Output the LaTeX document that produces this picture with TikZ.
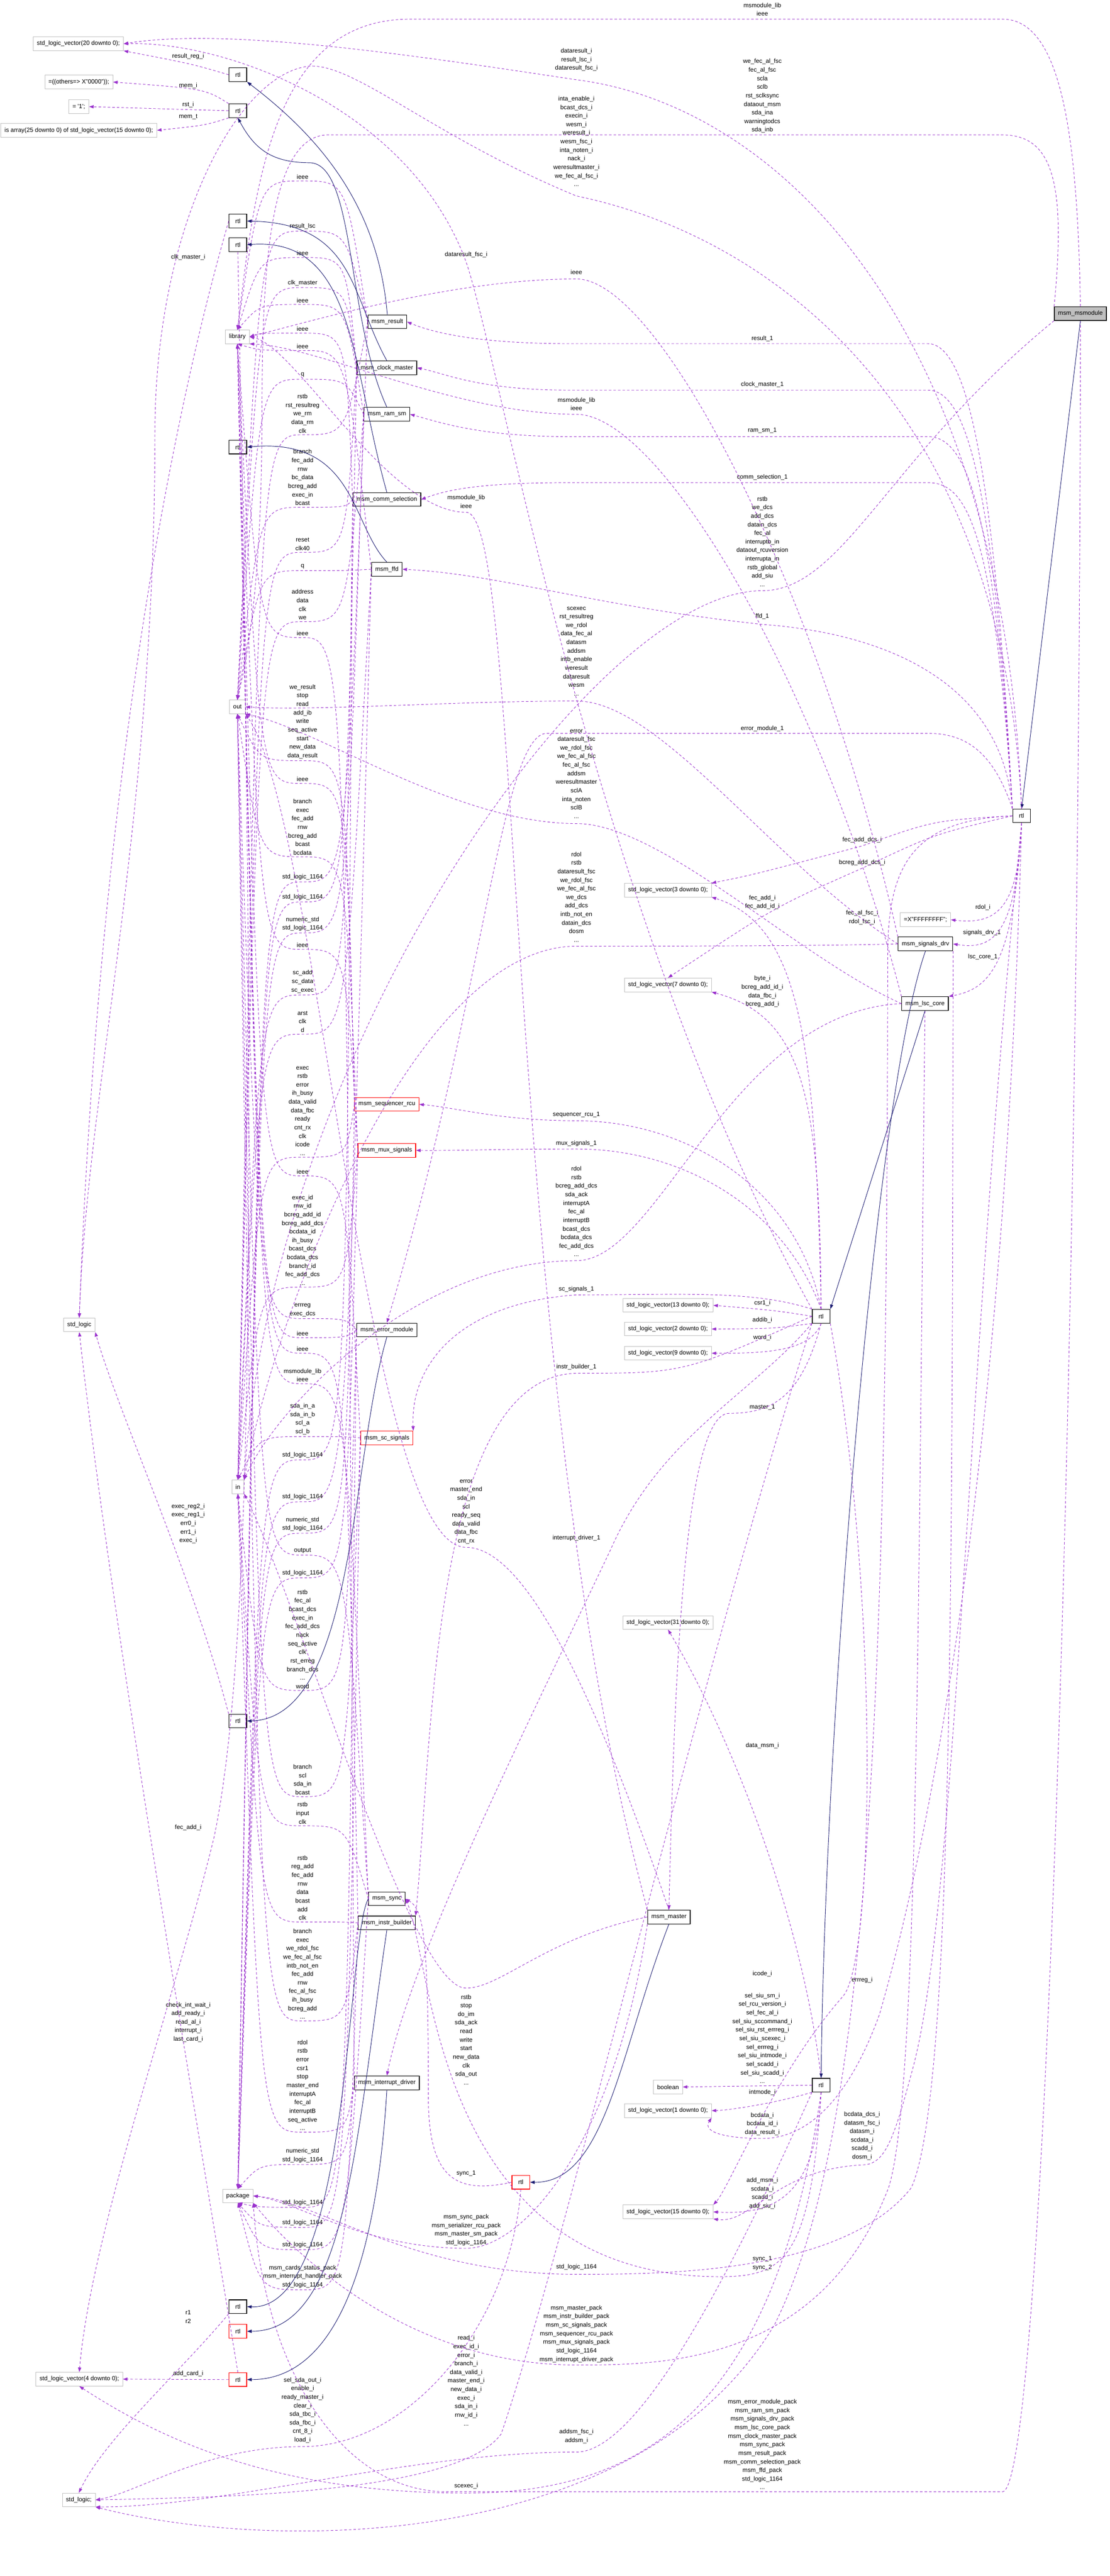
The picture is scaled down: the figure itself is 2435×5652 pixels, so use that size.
\documentclass[tikz,border=0pt]{standalone}
\usepackage{fontspec}
\setmainfont{Liberation Sans}
\usetikzlibrary{arrows.meta}
\definecolor{orchid}{HTML}{9A32CD}
\definecolor{navy}{HTML}{191970}
\newcommand\lbfont{\fontsize{7.6}{10.7}\selectfont}
\begin{document}
\begin{tikzpicture}[x=0.2mm,y=-0.2mm,
  box/.style={draw,line width=0.8pt,fill=white,minimum height=6mm,inner xsep=1.6mm,inner ysep=0pt,font=\lbfont},
  cut/.style={box,draw=red},
  typ/.style={box,draw=gray!50,line width=0.6pt},
  rtl/.style={box,minimum width=7.8mm,inner xsep=0pt},
  dep/.style={draw=orchid,line width=0.6pt,dash pattern=on 1.1mm off 0.9mm,-{Triangle[length=2mm,width=1.4mm]}},
  arch/.style={draw=navy,line width=0.6pt,-{Triangle[length=2mm,width=1.4mm]}},
  lbl/.style={font=\lbfont,align=center,inner sep=0.5pt}]
\useasboundingbox (0,0) rectangle (2435,5652);

\node[typ] (V20) at (172,96) {std\_logic\_vector(20 downto 0);};
\node[typ] (Oth) at (173,180) {=((others=> X"0000"));};
\node[typ] (One) at (173,234) {= \textquotesingle1\textquotesingle;};
\node[typ] (Arr) at (173,286) {is array(25 downto 0) of std\_logic\_vector(15 downto 0);};
\node[rtl] (A1) at (522,164) {rtl};
\node[rtl] (A2) at (522,243) {rtl};
\node[rtl] (A3) at (522,485) {rtl};
\node[rtl] (A4) at (522,537) {rtl};
\node[rtl] (A5) at (522,981) {rtl};
\node[typ] (Lib) at (521,739) {library};
\node[typ] (Out) at (521,1551) {out};
\node[typ] (In) at (522,3262) {in};
\node[typ] (Pkg) at (522,4818) {package};
\node[typ] (SL) at (174,2907) {std\_logic};
\node[rtl] (E0) at (522,3776) {rtl};
\node[rtl] (Y0) at (522,5061) {rtl};
\node[rtl,draw=red] (Ains) at (522,5115) {rtl};
\node[rtl,draw=red] (I0) at (522,5221) {rtl};
\node[typ] (V4) at (174,5220) {std\_logic\_vector(4 downto 0);};
\node[typ] (SLs) at (173,5485) {std\_logic;};
\node[box] (Res) at (850,706) {msm\_result};
\node[box] (Clk) at (849,807) {msm\_clock\_master};
\node[box] (Ram) at (849,909) {msm\_ram\_sm};
\node[box] (Com) at (849,1096) {msm\_comm\_selection};
\node[box] (Ffd) at (849,1249) {msm\_ffd};
\node[cut] (Seq) at (849,2423) {msm\_sequencer\_rcu};
\node[cut] (Mux) at (849,2524) {msm\_mux\_signals};
\node[box] (Err) at (849,2918) {msm\_error\_module};
\node[cut] (Sc) at (849,3155) {msm\_sc\_signals};
\node[box] (Syn) at (849,4166) {msm\_sync};
\node[box] (Ins) at (849,4219) {msm\_instr\_builder};
\node[box] (Int) at (849,4570) {msm\_interrupt\_driver};
\node[box] (Mas) at (1468,4206) {msm\_master};
\node[rtl,draw=red] (M0) at (1143,4788) {rtl};
\node[box,fill=gray!50] (Mod) at (2371,688) {msm\_msmodule};
\node[rtl] (T0) at (2242,1790) {rtl};
\node[typ] (V3) at (1466,1953) {std\_logic\_vector(3 downto 0);};
\node[typ] (V7) at (1466,2161) {std\_logic\_vector(7 downto 0);};
\node[typ] (FF) at (2031,2018) {=X"FFFFFFFF";};
\node[box] (Drv) at (2031,2071) {msm\_signals\_drv};
\node[box] (Lsc) at (2030,2202) {msm\_lsc\_core};
\node[typ] (V13) at (1466,2864) {std\_logic\_vector(13 downto 0);};
\node[rtl] (L0) at (1802,2888) {rtl};
\node[typ] (V2) at (1466,2916) {std\_logic\_vector(2 downto 0);};
\node[typ] (V9) at (1466,2969) {std\_logic\_vector(9 downto 0);};
\node[typ] (V31) at (1466,3560) {std\_logic\_vector(31 downto 0);};
\node[typ] (Boo) at (1466,4579) {boolean};
\node[rtl] (S0) at (1802,4575) {rtl};
\node[typ] (V1) at (1466,4631) {std\_logic\_vector(1 downto 0);};
\node[typ] (V15) at (1466,4853) {std\_logic\_vector(15 downto 0);};

\foreach \src/\tgt/\anc/\yy/\txt in {
  Res/Lib/north/397/{ieee},
  Res/Out/north/507/{result\_lsc},
  Clk/Lib/north/565/{ieee},
  Clk/Out/north/631/{clk\_master},
  Ram/Lib/north/668/{ieee},
  Com/Lib/east/731/{ieee},
  Ffd/Lib/south/769/{ieee},
  Ram/Out/north/832/{q},
  Res/In/north/954/{rstb\\rst\_resultreg\\we\_rm\\data\_rm\\clk},
  Com/Out/north/1113/{branch\\fec\_add\\rnw\\bc\_data\\bcreg\_add\\exec\_in\\bcast},
  Clk/In/north/1212/{reset\\clk40},
  Ffd/Out/north/1252/{q},
  Ram/In/north/1364/{address\\data\\clk\\we},
  Int/Lib/south/1399/{ieee},
  Seq/Out/south/1669/{we\_result\\stop\\read\\add\_ib\\write\\seq\_active\\start\\new\_data\\data\_result},
  Seq/Lib/south/1719/{ieee},
  Mux/Out/south/1880/{branch\\exec\\fec\_add\\rnw\\bcreg\_add\\bcast\\bcdata},
  Res/Pkg/north/1935/{std\_logic\_1164},
  Clk/Pkg/north/1979/{std\_logic\_1164},
  Ram/Pkg/north/2047/{numeric\_std\\std\_logic\_1164},
  Mux/Lib/south/2083/{ieee},
  Com/In/north/2183/{sc\_add\\sc\_data\\sc\_exec},
  Ffd/In/north/2269/{arst\\clk\\d},
  Seq/In/north/2539/{exec\\rstb\\error\\ih\_busy\\data\_valid\\data\_fbc\\ready\\cnt\_rx\\clk\\icode\\...},
  Sc/Lib/south/2580/{ieee},
  Mux/In/north/2824/{exec\_id\\rnw\_id\\bcreg\_add\_id\\bcreg\_add\_dcs\\bcdata\_id\\ih\_busy\\bcast\_dcs\\bcdata\_dcs\\branch\_id\\fec\_add\_dcs\\...},
  Err/Out/south/2893/{errreg\\exec\_dcs},
  Err/Lib/south/2935/{ieee},
  Ins/Lib/south/2969/{ieee},
  Syn/Lib/south/3036/{msmodule\_lib\\ieee},
  Sc/In/north/3152/{sda\_in\_a\\sda\_in\_b\\scl\_a\\scl\_b},
  Com/Pkg/north/3203/{std\_logic\_1164},
  Ffd/Pkg/north/3295/{std\_logic\_1164},
  Seq/Pkg/north/3364/{numeric\_std\\std\_logic\_1164},
  Syn/Out/south/3412/{output},
  Mux/Pkg/north/3462/{std\_logic\_1164},
  Err/In/south/3709/{rstb\\fec\_al\\bcast\_dcs\\exec\_in\\fec\_add\_dcs\\nack\\seq\_active\\clk\\rst\_erreg\\branch\_dcs\\...\\word},
  Sc/Out/south/3942/{branch\\scl\\sda\_in\\bcast},
  Syn/In/south/4006/{rstb\\input\\clk},
  Ins/In/south/4217/{rstb\\reg\_add\\fec\_add\\rnw\\data\\bcast\\add\\clk},
  Ins/Out/south/4434/{branch\\exec\\we\_rdol\_fsc\\we\_fec\_al\_fsc\\intb\_not\_en\\fec\_add\\rnw\\fec\_al\_fsc\\ih\_busy\\bcreg\_add\\...},
  Int/In/south/4678/{rdol\\rstb\\error\\csr1\\stop\\master\_end\\interruptA\\fec\_al\\interruptB\\seq\_active\\...},
  Int/Pkg/north/4749/{numeric\_std\\std\_logic\_1164},
  Err/Pkg/south/4843/{std\_logic\_1164},
  Sc/Pkg/south/4887/{std\_logic\_1164},
  Syn/Pkg/south/4936/{std\_logic\_1164},
  Ins/Pkg/south/5024/{msm\_cards\_status\_pack\\msm\_interrupt\_handler\_pack\\std\_logic\_1164}}{
  \draw[dep] (\src.west) .. controls (760,\yy) .. (664,\yy) .. controls (570,\yy) .. (\tgt.\anc);
  \node[lbl,anchor=south] at (664,\yy-3) {\txt};
}

\foreach \x/\y/\txt in {
  1673/5/{msmodule\_lib\\ieee},
  1673/128/{we\_fec\_al\_fsc\\fec\_al\_fsc\\scla\\sclb\\rst\_sclksync\\dataout\_msm\\sda\_ina\\warningtodcs\\sda\_inb},
  1265/105/{dataresult\_i\\result\_lsc\_i\\dataresult\_fsc\_i},
  1265/210/{inta\_enable\_i\\bcast\_dcs\_i\\execin\_i\\wesm\_i\\weresult\_i\\wesm\_fsc\_i\\inta\_noten\_i\\nack\_i\\weresultmaster\_i\\we\_fec\_al\_fsc\_i\\...},
  1265/591/{ieee},
  1023/551/{dataresult\_fsc\_i},
  1265/871/{msmodule\_lib\\ieee},
  1023/1085/{msmodule\_lib\\ieee},
  1673/736/{result\_1},
  1673/836/{clock\_master\_1},
  1673/937/{ram\_sm\_1},
  1673/1040/{comm\_selection\_1},
  1673/1088/{rstb\\we\_dcs\\add\_dcs\\datain\_dcs\\fec\_al\\interruptb\_in\\dataout\_rcuversion\\interrupta\_in\\rstb\_global\\add\_siu\\...},
  1673/1345/{ffd\_1},
  1265/1330/{scexec\\rst\_resultreg\\we\_rdol\\data\_fec\_al\\datasm\\addsm\\intb\_enable\\weresult\\dataresult\\wesm\\...},
  1673/1591/{error\_module\_1},
  1265/1599/{error\\dataresult\_fsc\\we\_rdol\_fsc\\we\_fec\_al\_fsc\\fec\_al\_fsc\\addsm\\weresultmaster\\sclA\\inta\_noten\\sclB\\...},
  1892/1836/{fec\_add\_dcs\_i},
  1265/1868/{rdol\\rstb\\dataresult\_fsc\\we\_rdol\_fsc\\we\_fec\_al\_fsc\\we\_dcs\\add\_dcs\\intb\_not\_en\\datain\_dcs\\dosm\\...},
  1892/1885/{bcreg\_add\_dcs\_i},
  1673/1963/{fec\_add\_i\\fec\_add\_id\_i},
  2157/1984/{rdol\_i},
  1892/1996/{fec\_al\_fsc\_i\\rdol\_fsc\_i},
  2155/2039/{signals\_drv\_1},
  2157/2092/{lsc\_core\_1},
  1673/2140/{byte\_i\\bcreg\_add\_id\_i\\data\_fbc\_i\\bcreg\_add\_i},
  1265/2439/{sequencer\_rcu\_1},
  1265/2501/{mux\_signals\_1},
  1265/2558/{rdol\\rstb\\bcreg\_add\_dcs\\sda\_ack\\interruptA\\fec\_al\\interruptB\\bcast\_dcs\\bcdata\_dcs\\fec\_add\_dcs\\...},
  1265/2821/{sc\_signals\_1},
  1673/2852/{csr1\_i},
  1673/2889/{addib\_i},
  1673/2927/{word\_i},
  1265/2992/{instr\_builder\_1},
  1673/3081/{master\_1},
  1023/3245/{error\\master\_end\\sda\_in\\scl\\ready\_seq\\data\_valid\\data\_fbc\\cnt\_rx},
  1265/3367/{interrupt\_driver\_1},
  1673/3823/{data\_msm\_i},
  1673/4323/{icode\_i},
  1892/4337/{errreg\_i},
  1673/4372/{sel\_siu\_sm\_i\\sel\_rcu\_version\_i\\sel\_fec\_al\_i\\sel\_siu\_sccommand\_i\\sel\_siu\_rst\_errreg\_i\\sel\_siu\_scexec\_i\\sel\_errreg\_i\\sel\_siu\_intmode\_i\\sel\_scadd\_i\\sel\_siu\_scadd\_i\\...},
  1023/4375/{rstb\\stop\\do\_im\\sda\_ack\\read\\write\\start\\new\_data\\clk\\sda\_out\\...},
  1673/4583/{intmode\_i},
  1673/4634/{bcdata\_i\\bcdata\_id\_i\\data\_result\_i},
  1892/4632/{bcdata\_dcs\_i\\datasm\_fsc\_i\\datasm\_i\\scdata\_i\\scadd\_i\\dosm\_i},
  1023/4761/{sync\_1},
  1673/4777/{add\_msm\_i\\scdata\_i\\scadd\_i\\add\_siu\_i},
  1023/4857/{msm\_sync\_pack\\msm\_serializer\_rcu\_pack\\msm\_master\_sm\_pack\\std\_logic\_1164},
  1673/4949/{sync\_1\\sync\_2},
  1265/4967/{std\_logic\_1164},
  1265/5057/{msm\_master\_pack\\msm\_instr\_builder\_pack\\msm\_sc\_signals\_pack\\msm\_sequencer\_rcu\_pack\\msm\_mux\_signals\_pack\\std\_logic\_1164\\msm\_interrupt\_driver\_pack},
  1023/5123/{read\_i\\exec\_id\_i\\error\_i\\branch\_i\\data\_valid\_i\\master\_end\_i\\new\_data\_i\\exec\_i\\sda\_in\_i\\rnw\_id\_i\\...},
  664/5215/{sel\_sda\_out\_i\\enable\_i\\ready\_master\_i\\clear\_i\\sda\_tbc\_i\\sda\_fbc\_i\\cnt\_8\_i\\load\_i},
  1673/5263/{msm\_error\_module\_pack\\msm\_ram\_sm\_pack\\msm\_signals\_drv\_pack\\msm\_lsc\_core\_pack\\msm\_clock\_master\_pack\\msm\_sync\_pack\\msm\_result\_pack\\msm\_comm\_selection\_pack\\msm\_ffd\_pack\\std\_logic\_1164\\...},
  1265/5329/{addsm\_fsc\_i\\addsm\_i},
  1023/5447/{scexec\_i},
  413/116/{result\_reg\_i},
  413/181/{mem\_i},
  413/222/{rst\_i},
  413/249/{mem\_t},
  413/557/{clk\_master\_i},
  413/3298/{exec\_reg2\_i\\exec\_reg1\_i\\err0\_i\\err1\_i\\exec\_i},
  413/4002/{fec\_add\_i},
  413/4392/{check\_int\_wait\_i\\add\_ready\_i\\read\_al\_i\\interrupt\_i\\last\_card\_i},
  413/5068/{r1\\r2},
  413/5201/{add\_card\_i}}{
  \node[lbl,anchor=north] at (\x,\y) {\txt};
}

\draw[dep] (Mod.north) .. controls (2365,300) and (2330,42) .. (2200,42) -- (900,42) .. controls (600,42) and (560,400) .. (Lib.north);
\draw[dep] (Mod.north west) .. controls (2340,400) and (2310,296) .. (2200,296) -- (720,296) .. controls (590,296) and (575,600) .. (575,900) .. controls (575,1300) and (540,1450) .. (Out.north);
\draw[dep] (Mod.south west) .. controls (1950,1000) and (1850,1296) .. (1673,1296) .. controls (1300,1296) and (600,2300) .. (In.north east);
\draw[dep] (Mod.south) .. controls (2370,3000) and (2290,5467) .. (2200,5467) -- (980,5467) .. controls (750,5467) and (580,5200) .. (Pkg.south east);
\draw[arch] (Mod.south) -- (T0.north);

\draw[dep] (T0.north) .. controls (2200,700) and (1700,230) .. (1265,175) .. controls (900,120) and (500,60) .. (V20.east);
\draw[dep] (T0.north) .. controls (2200,900) and (1700,520) .. (1265,430) .. controls (950,300) and (780,140) .. (680,145) .. controls (520,160) and (340,500) .. (340,950) .. controls (340,1800) and (190,2400) .. (SL.north);
\draw[dep] (T0.north west) .. controls (2180,1000) and (2120,754) .. (2036,754) -- (1250,754) .. controls (1050,754) and (950,730) .. (Res.east);
\draw[dep] (T0.north west) .. controls (2180,1050) and (2120,856) .. (2036,856) -- (1250,856) .. controls (1050,856) and (980,820) .. (Clk.east);
\draw[dep] (T0.north west) .. controls (2180,1100) and (2120,958) .. (2036,958) -- (1250,958) .. controls (1050,958) and (960,925) .. (Ram.east);
\draw[dep] (T0.north west) .. controls (2180,1150) and (2120,1059) .. (2036,1059) -- (1250,1059) .. controls (1050,1059) and (980,1075) .. (Com.east);
\draw[dep] (T0.north west) .. controls (2200,1500) and (1950,1390) .. (1673,1370) .. controls (1300,1330) and (1100,1260) .. (Ffd.east);
\draw[dep] (T0.north west) .. controls (2180,1650) and (2120,1609) .. (2036,1609) -- (1200,1609) .. controls (1100,1609) and (1060,2200) .. (Err.north);
\draw[dep] (T0.west) .. controls (2050,1800) .. (1892,1856) .. controls (1650,1920) .. (V3.north east);
\draw[dep] (T0.west) .. controls (2050,1830) .. (1892,1905) .. controls (1700,1990) .. (V7.north);
\draw[dep] (T0.south) .. controls (2235,1990) and (2190,2030) .. (FF.east);
\draw[dep] (T0.south) .. controls (2230,2050) and (2180,2085) .. (Drv.east);
\draw[dep] (T0.south) .. controls (2225,2120) and (2170,2170) .. (Lsc.north east);
\draw[dep] (T0.west) .. controls (2000,1800) and (1948,1900) .. (1948,2100) .. controls (1948,3800) and (1900,4700) .. (1700,5100) .. controls (1400,5600) and (600,5600) .. (SLs.south east);
\draw[dep] (T0.south) .. controls (2210,3000) and (2080,3900) .. (1930,4420) .. controls (1850,4640) and (1750,4692) .. (1673,4692) .. controls (1600,4692) and (1540,4680) .. (V1.south east);
\draw[dep] (T0.south) .. controls (2120,3000) and (2100,4200) .. (2000,4550) .. controls (1960,4700) and (1940,4750) .. (1892,4750) .. controls (1700,4760) and (1650,4880) .. (V15.south east);

\draw[dep] (L0.west) .. controls (1700,2875) .. (V13.east);
\draw[dep] (L0.south west) .. controls (1700,2915) .. (V2.east);
\draw[dep] (L0.south) .. controls (1780,2960) and (1700,2970) .. (V9.east);
\draw[dep] (L0.north) .. controls (1750,2600) and (1500,2459) .. (1265,2459) .. controls (1100,2459) and (1000,2430) .. (Seq.east);
\draw[dep] (L0.north) .. controls (1720,2650) and (1500,2521) .. (1265,2521) .. controls (1100,2521) and (1000,2525) .. (Mux.east);
\draw[dep] (L0.north west) .. controls (1650,2830) and (1500,2841) .. (1265,2841) .. controls (1000,2860) and (900,3000) .. (Sc.north east);
\draw[dep] (L0.west) .. controls (1500,3013) .. (1265,3013) .. controls (950,3020) and (950,3800) .. (Ins.north east);
\draw[dep] (L0.south west) .. controls (1650,3060) and (1450,3150) .. (1340,3400) .. controls (1150,3800) and (900,4300) .. (Int.north);
\draw[dep] (L0.south) .. controls (1760,3060) and (1700,3101) .. (1600,3101) .. controls (1500,3101) and (1480,3700) .. (Mas.north);
\draw[dep] (L0.north) .. controls (1800,2400) and (1760,2230) .. (V7.south east);
\draw[dep] (L0.north) .. controls (1790,2300) and (1760,2030) .. (V3.south east);
\draw[dep] (L0.south west) .. controls (1500,3800) and (1250,4900) .. (1100,5340) .. controls (1000,5480) and (400,5480) .. (SLs.east);
\draw[dep] (L0.south east) .. controls (1930,3500) and (1920,4300) .. (1850,4380) .. controls (1700,4550) and (1600,4800) .. (V15.north east);
\draw[dep] (L0.north west) .. controls (1300,2000) and (1100,800) .. (1023,575) .. controls (900,240) and (500,90) .. (V20.east);

\draw[dep] (S0.west) -- (Boo.east);
\draw[dep] (S0.south west) .. controls (1700,4615) and (1600,4630) .. (V1.east);
\draw[dep] (S0.south) .. controls (1790,4820) and (1700,4860) .. (V15.east);
\draw[dep] (S0.south) .. controls (1780,4950) and (1720,4990) .. (1600,4995) .. controls (950,5010) and (950,4300) .. (Syn.east);
\draw[dep] (S0.north) .. controls (1760,4200) and (1600,3800) .. (V31.south);
\draw[dep] (S0.south) .. controls (1700,5300) and (1400,5470) .. (1023,5470) .. controls (600,5470) and (350,5350) .. (V4.south);
\draw[dep] (S0.south west) .. controls (1600,5000) and (1400,5380) .. (1265,5380) .. controls (900,5380) and (500,5500) .. (SLs.south east);

\draw[dep] (M0.west) .. controls (1000,4815) and (940,4780) .. (940,4600) .. controls (940,4250) and (930,4190) .. (Syn.east);
\draw[dep] (M0.south) .. controls (1120,5100) and (900,5368) .. (664,5368) .. controls (450,5368) and (300,5470) .. (SLs.east);

\draw[dep] (Mas.north west) .. controls (1100,3000) and (1150,1124) .. (1023,1124) .. controls (850,1124) and (650,760) .. (Lib.east);
\draw[dep] (Mas.north) .. controls (1300,3700) and (1150,3395) .. (1023,3395) .. controls (800,3395) and (700,1800) .. (Out.south east);
\draw[dep] (Mas.west) .. controls (1200,4250) and (1100,4362) .. (1023,4362) .. controls (900,4365) and (650,3500) .. (In.south east);
\draw[dep] (Mas.south west) .. controls (1350,4700) and (1150,4933) .. (1023,4933) .. controls (800,4933) and (650,4830) .. (Pkg.east);
\draw[arch] (Mas.south) .. controls (1360,4500) and (1330,4790) .. (M0.east);

\draw[dep] (Drv.north west) .. controls (1800,1300) and (1450,612) .. (1265,612) .. controls (1000,612) and (700,700) .. (Lib.east);
\draw[dep] (Drv.west) .. controls (1700,1900) and (1450,1538) .. (1265,1538) .. controls (1000,1538) and (700,1560) .. (Out.east);
\draw[dep] (Drv.west) .. controls (1800,2076) and (1400,2076) .. (1265,2076) .. controls (900,2076) and (600,2900) .. (In.north east);
\draw[dep] (Drv.south east) .. controls (2090,3500) and (2090,4600) .. (2000,4800) .. controls (1850,4990) and (1450,4990) .. (1265,4990) .. controls (900,4990) and (700,4830) .. (Pkg.east);
\draw[arch] (Drv.south) .. controls (1920,2400) and (1810,3800) .. (S0.north);

\draw[dep] (Lsc.north west) .. controls (1800,1500) and (1450,909) .. (1265,909) .. controls (1000,909) and (700,760) .. (Lib.south east);
\draw[dep] (Lsc.west) .. controls (1750,2100) and (1450,1807) .. (1265,1807) .. controls (1000,1807) and (700,1600) .. (Out.south east);
\draw[dep] (Lsc.west) .. controls (1600,2220) and (1450,2766) .. (1265,2766) .. controls (900,2766) and (600,3100) .. (In.north east);
\draw[dep] (Lsc.south) .. controls (2015,3500) and (2015,4600) .. (1950,4800) .. controls (1800,5189) and (1450,5189) .. (1265,5189) .. controls (900,5189) and (650,4950) .. (Pkg.south east);
\draw[arch] (Lsc.south) -- (L0.north east);

\draw[dep] (A1.west) .. controls (420,140) .. (V20.south east);
\draw[dep] (A2.north west) .. controls (450,195) .. (Oth.east);
\draw[dep] (A2.west) -- (One.east);
\draw[dep] (A2.south west) .. controls (450,275) .. (Arr.east);
\draw[dep] (A3.west) .. controls (470,600) and (230,1400) .. (SL.north);
\draw[dep] (A4.south) .. controls (560,2500) and (560,3600) .. (470,4030) .. controls (380,4400) and (200,4900) .. (V4.north);
\draw[dep] (E0.north west) .. controls (420,3450) and (260,3100) .. (SL.south east);
\draw[dep] (I0.north) .. controls (440,4700) and (250,3600) .. (SL.south);
\draw[dep] (I0.west) -- (V4.east);
\draw[dep] (Y0.south west) .. controls (400,5200) and (230,5350) .. (SLs.north);

\draw[arch] (Res.north) .. controls (830,450) and (700,300) .. (A1.south east);
\draw[arch] (Ram.north) .. controls (760,700) and (780,360) .. (680,357) .. controls (600,357) and (560,330) .. (A2.south);
\draw[arch] (Clk.north) .. controls (770,650) and (780,490) .. (A3.east);
\draw[arch] (Com.north) .. controls (770,800) and (780,520) .. (A4.east);
\draw[arch] (Ffd.north) .. controls (770,1150) and (780,960) .. (A5.east);
\draw[arch] (Err.south) .. controls (770,3200) and (780,3770) .. (E0.east);
\draw[arch] (Syn.west) .. controls (760,4250) and (770,5070) .. (Y0.east);
\draw[arch] (Ins.south) .. controls (780,4700) and (760,5115) .. (Ains.east);
\draw[arch] (Int.south) .. controls (830,4900) and (760,5221) .. (I0.east);
\end{tikzpicture}
\end{document}
